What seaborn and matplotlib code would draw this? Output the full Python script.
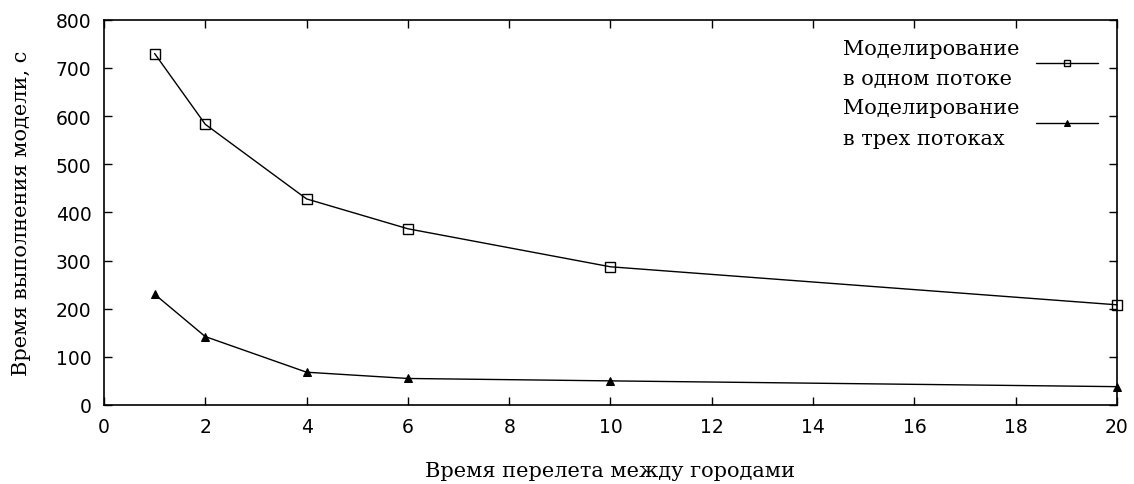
import numpy as np
import pandas as pd
import matplotlib
matplotlib.use('Agg')
import matplotlib.pyplot as plt
import seaborn as sns

# data
flight_time = [1, 2, 4, 6, 10, 20]
one_thread = [730, 583, 428, 366, 287, 208]
three_threads = [230, 142, 68, 55, 50, 38]
labels = ['Моделирование\nв одном потоке', 'Моделирование\nв трех потоках']

sns.set_style('ticks')
plt.rcParams['font.family'] = ['DejaVu Sans']
plt.rcParams.update({'text.color': 'black', 'axes.labelcolor': 'black',
					 'xtick.color': 'black', 'ytick.color': 'black'})

df = pd.DataFrame({
	'x': flight_time * 2,
	'y': one_thread + three_threads,
	'series': [labels[0]] * len(flight_time) + [labels[1]] * len(flight_time),
})

fig = plt.figure(figsize=(11.34, 4.85), dpi=100)
ax = fig.add_axes([0.0917, 0.163, 0.8933, 0.794])

sns.lineplot(data=df[df['series'] == labels[0]], x='x', y='y', ax=ax,
			 color='black', linewidth=1, marker='s', markersize=6.5,
			 markerfacecolor='none', markeredgecolor='black', markeredgewidth=1,
			 label=labels[0], clip_on=False)
sns.lineplot(data=df[df['series'] == labels[1]], x='x', y='y', ax=ax,
			 color='black', linewidth=1, marker='^', markersize=5.5,
			 markerfacecolor='black', markeredgecolor='black',
			 label=labels[1], clip_on=False)

ax.set_xlim(0, 20)
ax.set_ylim(0, 800)
ax.set_xticks(np.arange(0, 21, 2))
ax.set_yticks(np.arange(0, 801, 100))
ax.tick_params(direction='in', top=True, right=True, length=6, width=1,
			   labelsize=13.5, pad=9)
for s in ax.spines.values():
	s.set_linewidth(1.2)
	s.set_color('black')
	s.set_visible(True)

serif = ['DejaVu Serif']
ax.set_xlabel('Время перелета между городами', family=serif, fontsize=15, labelpad=18)
ax.set_ylabel('Время выполнения модели, с', family=serif, fontsize=15, labelpad=18)

leg = ax.legend(loc='upper right', frameon=False, markerfirst=False,
				prop={'family': serif, 'size': 15}, handlelength=3,
				labelspacing=0.5, borderaxespad=0.5, handletextpad=0.8)
for t in leg.get_texts():
	t.set_linespacing(1.75)
for h in leg.legend_handles:
	h.set_markersize(5)

fig.savefig('out.png', dpi=100)
